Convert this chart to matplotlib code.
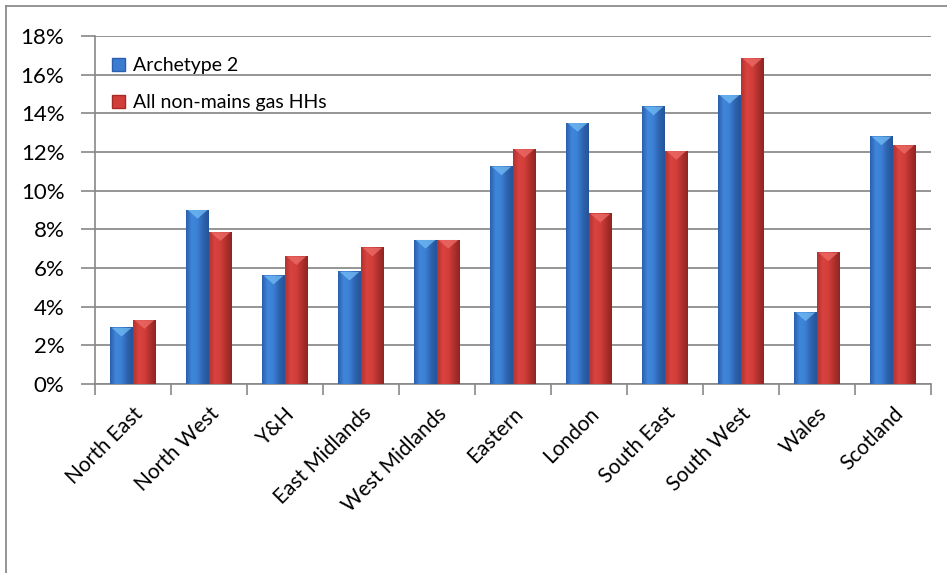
import numpy as np
import matplotlib
matplotlib.use("Agg")
import matplotlib.pyplot as plt
import matplotlib.transforms as mtransforms
from matplotlib.colors import LinearSegmentedColormap
from matplotlib.patches import Patch, Polygon
from matplotlib.lines import Line2D
from matplotlib.ticker import FuncFormatter

# données (en %)
regions = ["North East", "North West", "Y&H", "East Midlands", "West Midlands",
           "Eastern", "London", "South East", "South West", "Wales", "Scotland"]
archetype2 = [2.9, 9.0, 5.6, 5.8, 7.45, 11.25, 13.5, 14.35, 14.95, 3.7, 12.8]
non_mains = [3.3, 7.85, 6.6, 7.05, 7.45, 12.15, 8.8, 12.05, 16.85, 6.8, 12.35]
series_labels = ["Archetype 2", "All non-mains gas HHs"]

plt.rcParams['font.family'] = ['Lato', 'DejaVu Sans']

fig = plt.figure(figsize=(9.47, 5.73), dpi=100)
ax = fig.add_axes([0.1003, 0.330, 0.8827, 0.607])

# dégradés horizontaux pour imiter le rendu "Excel"
cmap_bleu = LinearSegmentedColormap.from_list(
    "bleu", ["#2b5fae", "#3f86da", "#3c80d4", "#2e63b0", "#25549a"])
cmap_rouge = LinearSegmentedColormap.from_list(
    "rouge", ["#b33230", "#d8433f", "#d23e3a", "#b0302d", "#8f2522"])
grad = np.linspace(0, 1, 64).reshape(1, -1)

largeur = 0.30
x = np.arange(len(regions))


def barres(positions, valeurs, cmap, clair):
    for xc, v in zip(positions, valeurs):
        x0, x1 = xc - largeur / 2, xc + largeur / 2
        ax.imshow(grad, cmap=cmap, extent=[x0, x1, 0, v], aspect='auto',
                  zorder=3, interpolation='bilinear')
        # petite facette en haut de la barre
        ax.add_patch(Polygon([[x0 + 0.02, v], [x1 - 0.02, v], [xc, v - 0.45]],
                             closed=True, facecolor=clair, edgecolor='none',
                             alpha=0.8, zorder=4))


barres(x - largeur / 2, archetype2, cmap_bleu, "#6fb8f2")
barres(x + largeur / 2, non_mains, cmap_rouge, "#ec6a66")

ax.set_xlim(-0.5, len(regions) - 0.5)
ax.set_ylim(0, 18)
ax.set_yticks(np.arange(0, 19, 2))
ax.yaxis.set_major_formatter(FuncFormatter(lambda v, p: f"{v:.0f}%"))
ax.set_xticks(x)
ax.set_xticklabels(regions, rotation=45, ha='right', rotation_mode='anchor',
                   fontsize=15)
decal = mtransforms.ScaledTranslation(-6 / 100, 0, fig.dpi_scale_trans)
for lab in ax.get_xticklabels():
    lab.set_transform(lab.get_transform() + decal)
ax.set_xticks(np.arange(-0.5, len(regions)), minor=True)
ax.tick_params(axis='x', which='major', length=0, pad=14)
ax.tick_params(axis='x', which='minor', length=8, color='#888888', width=1.2)
ax.tick_params(axis='y', length=10, color='#888888', width=1.2, labelsize=16, pad=12)

ax.grid(axis='y', color='#8c8c8c', linewidth=1.3, zorder=0)
ax.set_axisbelow(True)
for s in ['top', 'right']:
    ax.spines[s].set_visible(False)
for s in ['left', 'bottom']:
    ax.spines[s].set_color('#888888')
    ax.spines[s].set_linewidth(1.2)

handles = [Patch(facecolor="#3a7ccf", edgecolor='#2b5fae'),
           Patch(facecolor="#d23e3a", edgecolor='#a52a28')]
ax.legend(handles, series_labels, loc='upper left', bbox_to_anchor=(0.0, 0.99),
          frameon=False, fontsize=14, labelspacing=1.05, handlelength=0.65,
          handleheight=0.65, handletextpad=0.4)

# cadre du graphique (bord gauche et haut)
fig.add_artist(Line2D([6 / 947, 6 / 947], [0, 1 - 6 / 573], color='#8c8c8c', lw=1.3))
fig.add_artist(Line2D([6 / 947, 1], [1 - 6 / 573, 1 - 6 / 573], color='#8c8c8c', lw=1.3))

fig.savefig("out.png", dpi=100)
